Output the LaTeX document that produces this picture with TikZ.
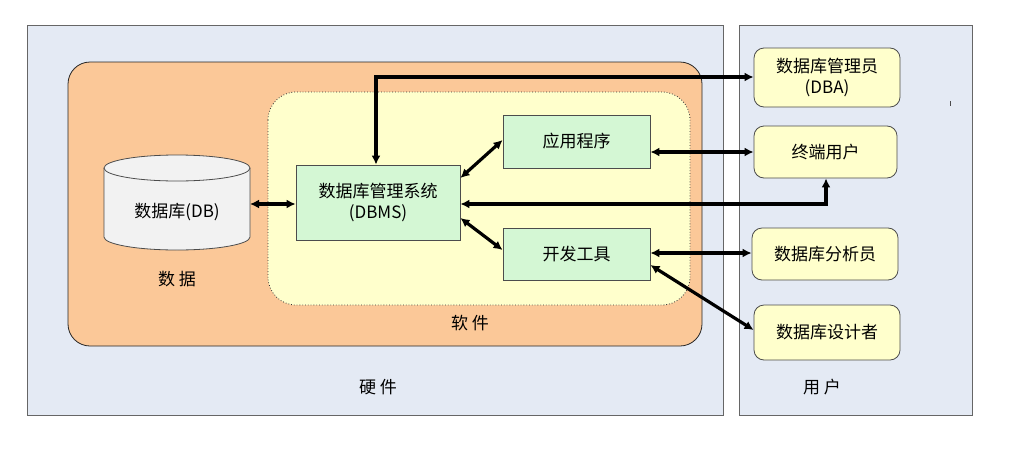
\documentclass[tikz,border=0pt]{standalone}
\usepackage{fontspec}
\setmainfont{Noto Sans CJK SC}
\usetikzlibrary{shapes.geometric,arrows.meta}
\definecolor{hw}{HTML}{E4EAF4}
\definecolor{sw}{HTML}{FBC898}
\definecolor{yl}{HTML}{FFFFCC}
\definecolor{gr}{HTML}{D4F7D4}
\begin{document}
\begin{tikzpicture}[x=1pt,y=-1pt,
  lbl/.style={font=\fontsize{17}{19}\selectfont},
  gbox/.style={draw=black!70,line width=0.8pt,fill=gr,font=\fontsize{17}{21}\selectfont,align=center,inner sep=0pt},
  ubox/.style={draw=black!70,line width=0.8pt,fill=yl,rounded corners=10pt,font=\fontsize{17}{21}\selectfont,align=center,inner sep=0pt},
  ar/.style={line width=3.2pt,{Latex[length=9pt,width=9pt]}-{Latex[length=9pt,width=9pt]}}]
\useasboundingbox (0,0) rectangle (1011,450);
\fill[white] (0,0) rectangle (1011,450);
\draw[black!60,line width=0.8pt,fill=hw] (27,25) rectangle (723,415);
\draw[black!60,line width=0.8pt,fill=hw] (739,25) rectangle (972,415);
\draw[black!85,line width=0.8pt,fill=sw,rounded corners=22pt] (68,62) rectangle (702,346);
\draw[black!80,dotted,line width=0.8pt,fill=yl,rounded corners=28pt] (268,92) rectangle (690,305);
% cylinder
\draw[black!70,line width=0.8pt,fill=black!5] (104,168) -- (104,237) arc[start angle=180,end angle=0,x radius=73,y radius=13] -- (250,168) arc[start angle=0,end angle=-180,x radius=73,y radius=13] -- cycle;
\draw[black!70,line width=0.8pt] (104,168) arc[start angle=180,end angle=0,x radius=73,y radius=13];
\node[lbl] (db) at (177,212) {数据库(DB)};
\node[lbl] at (177,279) {数 据};
\node[gbox,minimum width=164pt,minimum height=75pt] (dbms) at (378,202.5) {数据库管理系统\\(DBMS)};
\node[gbox,minimum width=147pt,minimum height=53pt] (app) at (576.5,141.5) {应用程序};
\node[gbox,minimum width=147pt,minimum height=52pt] (dev) at (576.5,254) {开发工具};
\node[lbl] at (470,323) {软 件};
\node[lbl] at (378,387) {硬 件};
\node[lbl] at (822,387) {用 户};
\node[ubox,minimum width=146pt,minimum height=59pt] (dba) at (827,77.5) {数据库管理员\\(DBA)};
\node[ubox,minimum width=143pt,minimum height=52pt] (eu) at (825.5,152) {终端用户};
\node[ubox,minimum width=146pt,minimum height=52pt] (an) at (825,254) {数据库分析员};
\node[ubox,minimum width=146pt,minimum height=55pt] (ds) at (827,332.5) {数据库设计者};
\draw[black!70,line width=0.8pt] (950,101) -- (950,106);
\coordinate (dbe) at (250,204);
\coordinate (c1) at (376,77);
\coordinate (c2) at (826,204);
\draw[ar] (dbe) -- (dbms.west |- dbe);
\draw[ar] (dbms.north -| c1) -- (c1) -- (dba.west |- c1);
\draw[ar] (dbms.east |- 0,178) -- (app.west |- 0,140);
\draw[ar] (dbms.east |- 0,218) -- (dev.west |- 0,250);
\draw[ar] (app.east |- 0,152) -- (eu.west |- 0,152);
\draw[ar] (dbms.east |- c2) -- (c2) -- (eu.south -| c2);
\draw[ar] (dev.east |- 0,253) -- (an.west |- 0,253);
\draw[ar] (dev.east |- 0,265) -- (ds.west |- 0,330);
\end{tikzpicture}
\end{document}
